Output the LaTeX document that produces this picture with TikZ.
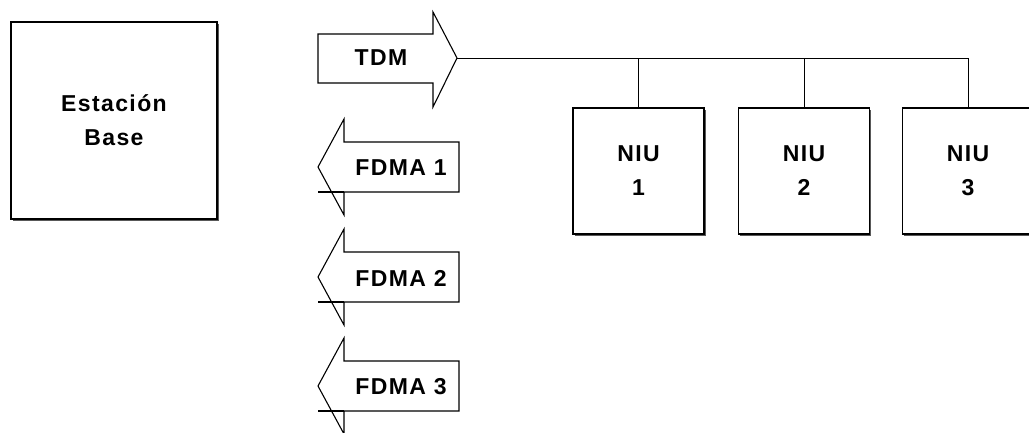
\documentclass[tikz,border=0pt]{standalone}
\usepackage{fontspec}
\setmainfont{Liberation Sans}[LetterSpace=6]
\usetikzlibrary{positioning,shadows}

\begin{document}
\begin{tikzpicture}[x=1pt,y=1pt,
	box/.style={draw,line width=1.1pt,fill=white,rectangle,
		drop shadow={shadow xshift=1.6pt,shadow yshift=-1.6pt,fill=black!65,opacity=1}},
	lbl/.style={font=\fontsize{23}{34}\selectfont\bfseries,align=center,inner sep=0pt},
	arr/.style={draw,line width=1.1pt,line join=miter},
	bus/.style={line width=0.9pt}]
	\useasboundingbox (0,0) rectangle (1029,-432);
	% estacion base
	\node[box,lbl,minimum width=206,minimum height=197] (base) at (114,-120.5) {Estación\\Base};
	% TDM hacia las NIU
	\draw[arr] (318,-34) -- (433,-34) -- (433,-12) -- (457,-58) coordinate (tip) -- (433,-107) -- (433,-83) -- (318,-83) -- cycle;
	\node[lbl] (tdm) at (381,-58) {TDM};
	% FDMA de vuelta
	\foreach \n/\c in {1/167,2/277,3/386} {
		\draw[arr] (459,-\c+25) -- (344,-\c+25) -- (344,-\c+48) -- (318,-\c) coordinate (up\n) -- (344,-\c-48) -- (344,-\c-25) -- (459,-\c-25) -- cycle;
		\draw[arr] (318,-\c-25) -- (344,-\c-25);
		\node[lbl] (fdma\n) at (401,-\c-1) {FDMA \n};
	}
	% NIU y bus
	\foreach \i/\x in {1/638.5,2/804,3/968} {
		\node[box,lbl,minimum width=131,minimum height=126] (niu\i) at (\x,-171) {NIU\\\i};
		\draw[bus] (niu\i.north) -- (niu\i.north |- tip);
	}
	\draw[bus] (tip) -- (niu3.north |- tip);
\end{tikzpicture}
\end{document}
